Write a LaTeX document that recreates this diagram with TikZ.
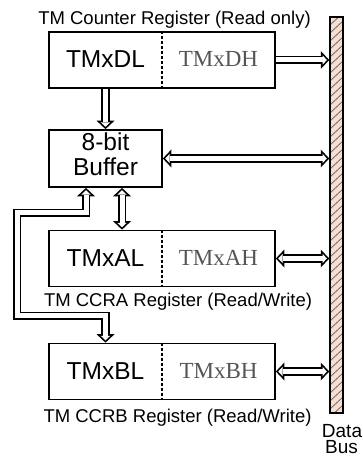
\documentclass[tikz,border=0pt]{standalone}
\usepackage{fontspec}
\setmainfont{Liberation Sans}
\newfontfamily\hfont{Liberation Serif}
\usetikzlibrary{arrows.meta}

\definecolor{busfill}{RGB}{250,222,205}
\definecolor{hatchcol}{RGB}{95,105,115}
\definecolor{hbytecol}{RGB}{85,85,85}

\tikzset{
  regbox/.style={draw, line width=1.7pt, minimum width=226pt, minimum height=56pt, inner sep=0pt},
  bufbox/.style={draw, line width=1.7pt, minimum width=113pt, minimum height=57pt, inner sep=0pt},
  lbyte/.style={inner sep=0pt, font=\fontsize{24.5}{25}\selectfont},
  hbyte/.style={inner sep=0pt, text=hbytecol, font=\hfont\fontsize{23}{25}\selectfont},
  caption/.style={inner sep=0pt, anchor=base, font=\fontsize{18.5}{20}\selectfont},
  buscap/.style={inner sep=0pt, anchor=base, font=\fontsize{19}{19}\selectfont},
  divider/.style={line width=1.8pt, dash pattern=on 3pt off 2pt},
  hatch/.style={draw=hatchcol, line width=0.8pt},
  hollow/.style={draw=white, line width=5pt, shorten >=2.4pt,
    -{Triangle[length=4.3pt,width=9.2pt,line width=0pt]},
    preaction={draw=black, line width=8.5pt, shorten >=0pt,
      -{Triangle[length=8.5pt,width=18pt,line width=0pt]}}},
  hollowboth/.style={draw=white, line width=5pt, shorten >=2.4pt, shorten <=2.4pt,
    {Triangle[length=4.3pt,width=9.2pt,line width=0pt]}-{Triangle[length=4.3pt,width=9.2pt,line width=0pt]},
    preaction={draw=black, line width=8.5pt, shorten >=0pt, shorten <=0pt,
      {Triangle[length=8.5pt,width=18pt,line width=0pt]}-{Triangle[length=8.5pt,width=18pt,line width=0pt]}}},
}

\begin{document}
\begin{tikzpicture}[x=1pt,y=1pt]
\useasboundingbox (0,0) rectangle (363,-457);

% data bus
\node[draw, line width=1.5pt, fill=busfill, minimum width=13pt, minimum height=396pt, inner sep=0pt,
  path picture={\foreach \k in {0,...,51}
    \draw[hatch] ([yshift=\k*8pt-12pt]path picture bounding box.south west) -- ++(13,12);}]
  (bus) at (336.5,-215) {};
\node[buscap] (datalabel) at (342,-437) {Data};
\node[buscap] (buslabel) at (341.5,-453) {Bus};

% counter register
\node[caption] (dcap) at (174.5,-25) {TM Counter Register (Read only)};
\node[regbox] (dreg) at (162,-60) {};
\draw[divider] (dreg.north) -- (dreg.south);
\node[lbyte] (dl) at (105.5,-59) {TMxDL};
\node[hbyte] (dh) at (218.5,-59) {TMxDH};

% buffer
\node[bufbox] (buf) at (105.5,-158.5) {};
\node[lbyte, align=center] (buftext) at (105.5,-154) {8-bit\\Buffer};

% CCRA
\node[regbox] (areg) at (162,-258.5) {};
\draw[divider] (areg.north) -- (areg.south);
\node[lbyte] (al) at (105.5,-258) {TMxAL};
\node[hbyte] (ah) at (218.5,-258) {TMxAH};
\node[caption] (acap) at (178,-306) {TM CCRA Register (Read/Write)};

% CCRB
\node[regbox] (breg) at (162,-371.5) {};
\draw[divider] (breg.north) -- (breg.south);
\node[lbyte] (bl) at (105.5,-371) {TMxBL};
\node[hbyte] (bh) at (218.5,-371) {TMxBH};
\node[caption] (bcap) at (177.5,-422) {TM CCRB Register (Read/Write)};

% connections
\coordinate (bufa) at ([xshift=16.5pt]buf.south);
\coordinate (bufb) at ([xshift=-19.5pt]buf.south);
\draw[hollow] (dreg.east) -- (dreg.east -| bus.west);
\draw[hollow] (buf.north |- dreg.south) -- (buf.north);
\draw[hollowboth] (buf.east) -- (buf.east -| bus.west);
\draw[hollowboth] (bufa) -- (bufa |- areg.north);
\draw[hollowboth] (areg.east) -- (areg.east -| bus.west);
\draw[hollowboth] (breg.east) -- (breg.east -| bus.west);
\draw[hollowboth] (bufb) -- ++(0,-25) -| ++(-69,-103) -| (breg.north -| buf.north);
\end{tikzpicture}
\end{document}
